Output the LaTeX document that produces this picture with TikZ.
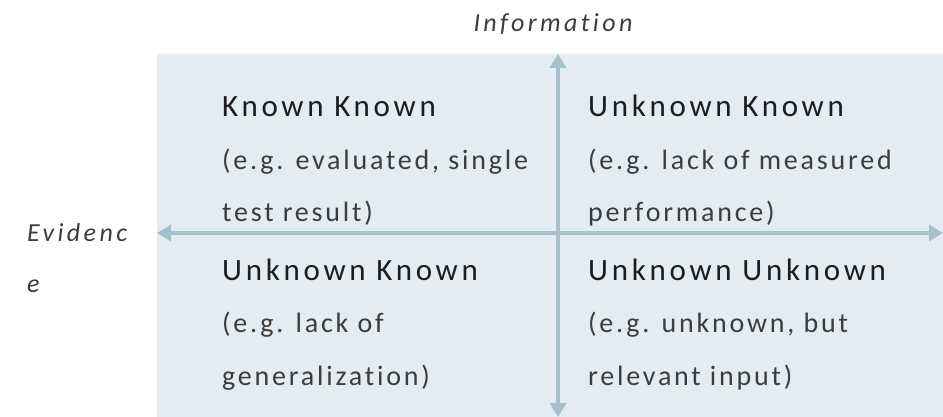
\documentclass[tikz,border=0pt]{standalone}
\usepackage{fontspec}
\setmainfont{Carlito}
\newfontfamily\headfont{Carlito}[LetterSpace=12,Ligatures=CommonOff]
\newfontfamily\bodyfont{Carlito}[LetterSpace=10,Ligatures=CommonOff]
\newfontfamily\axisfont{Carlito}[LetterSpace=13,Ligatures=CommonOff]
\usetikzlibrary{arrows.meta}

\definecolor{quadfill}{HTML}{E3ECF2}
\definecolor{axisline}{HTML}{A8BFCC}
\definecolor{headtext}{HTML}{1C1C1C}
\definecolor{bodytext}{HTML}{3C3C3C}

\begin{document}
\begin{tikzpicture}[
      x=1pt, y=1pt,
      axis/.style={draw=axisline, line width=4pt,
        {Triangle[length=14pt,width=16pt]}-{Triangle[length=14pt,width=16pt]}},
      head/.style={anchor=base west, inner sep=0pt, text=headtext,
        font=\headfont\fontsize{31}{36}\selectfont},
      body/.style={anchor=base west, inner sep=0pt, text=bodytext,
        font=\bodyfont\fontsize{28}{34}\selectfont},
      label/.style={anchor=base west, inner sep=0pt, text=bodytext,
        font=\axisfont\itshape\fontsize{26}{32}\selectfont}
    ]
    \useasboundingbox (0,0) rectangle (943,417);

    % shaded quadrant field
    \node[fill=quadfill, anchor=south west, inner sep=0pt,
      minimum width=786, minimum height=363] (field) at (157,0) {};

    % axis ends
    \coordinate (ntop) at (558,363);
    \coordinate (nbot) at (558,0);
    \coordinate (wend) at (157,184);
    \coordinate (eend) at (943,184);
    \draw[axis] (nbot) -- (ntop);
    \draw[axis] (wend) -- (eend);

    % axis names
    \node[label, anchor=base] (info) at (553,385) {Information};
    \node[label] (evid1) at (27,175) {Evidenc};
    \node[label] (evid2) at (27,124) {e};

    % upper left
    \node[head] (kk) at (222,300) {Known Known};
    \node[body] (kk1) at (222,247) {(e.g. evaluated, single};
    \node[body] (kk2) at (222,195) {test result)};

    % upper right
    \node[head] (uk) at (588,300) {Unknown Known};
    \node[body] (uk1) at (588,247) {(e.g. lack of measured};
    \node[body] (uk2) at (588,195) {performance)};

    % lower left
    \node[head] (ukl) at (222,136) {Unknown Known};
    \node[body] (ukl1) at (222,84) {(e.g. lack of};
    \node[body] (ukl2) at (222,31) {generalization)};

    % lower right
    \node[head] (uu) at (588,136) {Unknown Unknown};
    \node[body] (uu1) at (588,84) {(e.g. unknown, but};
    \node[body] (uu2) at (588,31) {relevant input)};
\end{tikzpicture}
\end{document}
